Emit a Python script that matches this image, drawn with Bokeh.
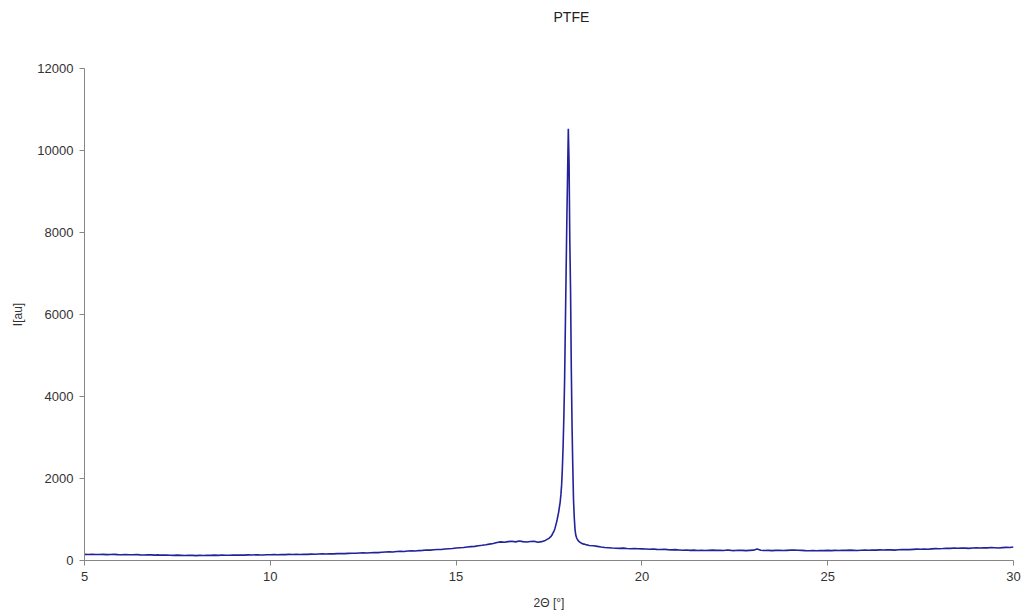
import numpy as np
from bokeh.plotting import figure
from bokeh.models import Range1d, FixedTicker, ColumnDataSource, Title
from bokeh.embed import file_html
from bokeh.resources import INLINE

# ---- data ----
# regular part before the peak: 5.0 .. 17.4 step 0.1
theta_pre = np.round(np.arange(5.0, 17.45, 0.1), 2)
intensity_pre = [
    150, 148, 152, 145, 147, 150, 143, 146, 149, 144, 141,
    145, 139, 142, 146, 138, 135, 140, 137, 132, 136,
    130, 134, 128, 125, 130, 126, 122, 127, 124, 120,
    125, 121, 128, 124, 130, 126, 133, 129, 127, 134,
    131, 136, 130, 138, 134, 140, 137, 135, 142, 140,
    144, 139, 146, 143, 149, 145, 151, 148, 153, 150,
    156, 152, 159, 162, 158, 165, 161, 168, 171, 167,
    174, 178, 175, 182, 186, 183, 190, 195, 192, 200,
    206, 211, 209, 218, 223, 221, 230, 236, 233, 242,
    248, 255, 252, 262, 270, 268, 280, 288, 292, 305,
    312, 318, 330, 338, 345, 360, 372, 385, 400, 415,
    440, 455, 445, 460, 470, 455, 475, 460, 450, 465,
    470, 445, 460, 490,
]
# peak region: 17.50 .. 18.60 step 0.02
theta_peak = np.round(np.arange(17.50, 18.605, 0.02), 2)
intensity_peak = [
    540, 560, 575, 595, 620, 660, 690, 730, 780, 850,
    920, 1000, 1090, 1180, 1300, 1420, 1600, 1850, 2250, 2800,
    3500, 4400, 5700, 7000, 8300, 9400, 10530, 9700, 7800, 6600,
    4700, 3300, 2300, 1470, 1050, 760, 620, 560, 520, 490,
    470, 455, 440, 430, 420, 410, 405, 395, 400, 390,
    385, 380, 378, 372, 366,
]
# regular part after the peak: 18.7 .. 30.0 step 0.1
theta_post = np.round(np.arange(18.7, 30.05, 0.1), 2)
intensity_post = [
    360, 345, 330, 318,
    312, 305, 300, 296, 302, 294, 288, 292, 286, 284,
    280, 276, 282, 272, 268, 274, 265, 260, 266, 258,
    250, 256, 248, 252, 245, 250, 243, 248, 252, 246,
    250, 244, 255, 248, 242, 250, 246, 240, 248, 252,
    282, 250, 244, 248, 240, 246, 250, 244, 248, 252,
    256, 250, 246, 240, 236, 242, 238, 244, 240, 246,
    242, 248, 244, 250, 246, 252, 248, 244, 250, 254,
    250, 256, 252, 260, 256, 262, 258, 254, 262, 266,
    270, 266, 272, 278, 274, 280, 276, 284, 290, 286,
    292, 300, 296, 304, 298, 306, 302, 296, 304, 308,
    304, 312, 308, 316, 312, 306, 314, 320, 318, 328,
]
x_ticks = [5, 10, 15, 20, 25, 30]
y_ticks = [0, 2000, 4000, 6000, 8000, 10000, 12000]
title_text = "PTFE"

n_pre = min(len(theta_pre), len(intensity_pre))
n_peak = min(len(theta_peak), len(intensity_peak))
n_post = min(len(theta_post), len(intensity_post))
two_theta = list(theta_pre[:n_pre]) + list(theta_peak[:n_peak]) + list(theta_post[:n_post])
intensity = intensity_pre[:n_pre] + intensity_peak[:n_peak] + intensity_post[:n_post]

src = ColumnDataSource(dict(x=two_theta, y=intensity))

FONT = "Liberation Sans"
p = figure(width=1026, height=616, output_backend="svg", toolbar_location=None,
           title_location=None,
           x_range=Range1d(5, 30), y_range=Range1d(0, 12000),
           min_border_left=84, min_border_right=13, min_border_top=68, min_border_bottom=56)
p.line("x", "y", source=src, line_color="#222299", line_width=1.6)

# spacer panel next to the frame, then the real title further out
spacer = Title(text=" ", text_font=FONT, text_font_size="14px", standoff=21)
p.add_layout(spacer, "above")
main_title = Title(text=title_text, align="left", offset=469, standoff=10,
                   text_font=FONT, text_font_size="14px", text_font_style="normal",
                   text_color="#222222")
p.add_layout(main_title, "above")

p.xgrid.visible = False
p.ygrid.visible = False
p.outline_line_color = None
p.background_fill_color = "white"
p.border_fill_color = "white"

for ax in (p.xaxis[0], p.yaxis[0]):
    ax.axis_line_color = "#868686"
    ax.major_tick_line_color = "#868686"
    ax.major_tick_in = 0
    ax.major_tick_out = 5
    ax.minor_tick_line_color = None
    ax.major_label_text_font = FONT
    ax.major_label_text_font_size = "13px"
    ax.major_label_text_color = "#333333"
    ax.axis_label_text_font = FONT
    ax.axis_label_text_font_size = "12px"
    ax.axis_label_text_font_style = "normal"
    ax.axis_label_text_color = "#333333"

p.xaxis[0].ticker = FixedTicker(ticks=x_ticks)
p.yaxis[0].ticker = FixedTicker(ticks=y_ticks)
p.xaxis[0].axis_label = "2Θ [°]"
p.yaxis[0].axis_label = "I[au]"
p.xaxis[0].major_label_standoff = 6
p.yaxis[0].major_label_standoff = 6
p.xaxis[0].axis_label_standoff = 12
p.yaxis[0].axis_label_standoff = 9

open("out.html", "w").write(file_html(p, INLINE))
